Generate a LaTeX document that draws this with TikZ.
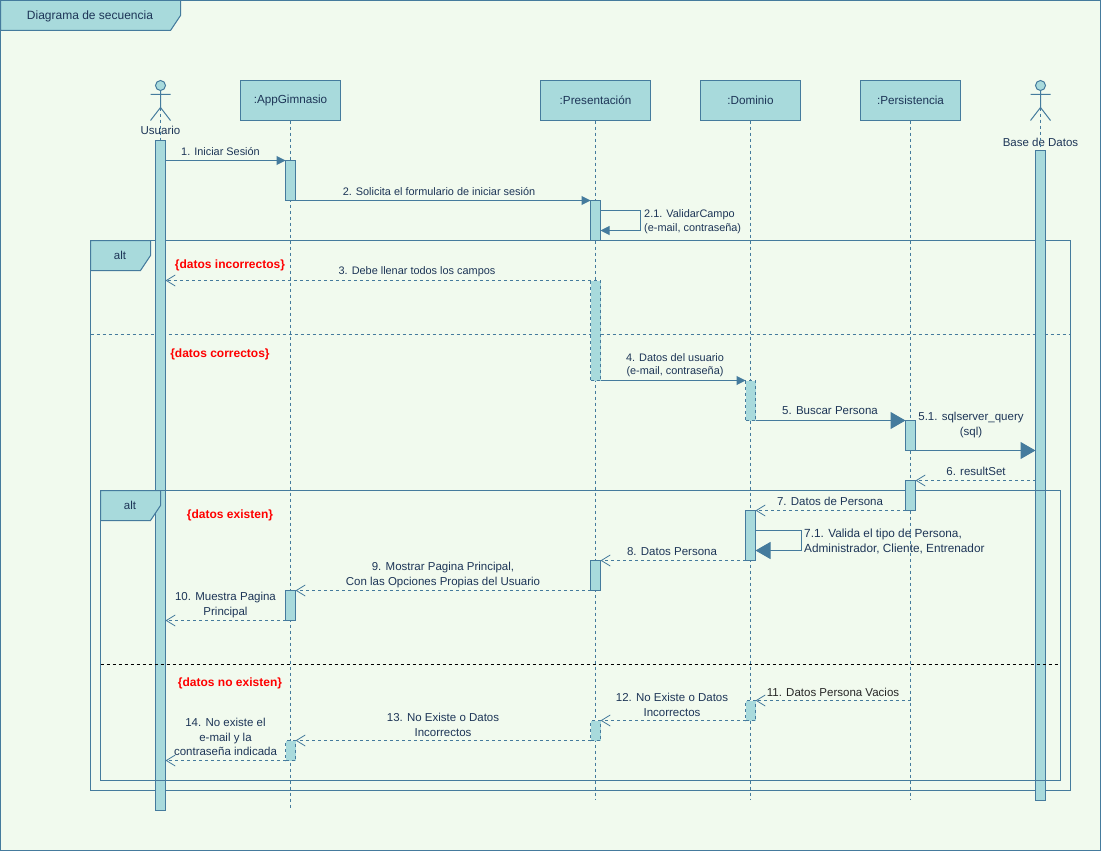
\documentclass[tikz,border=0pt]{standalone}
\usepackage{fontspec}
\setmainfont{Liberation Sans}
\usetikzlibrary{arrows.meta,calc}
\definecolor{sage}{HTML}{A8DADC}
\definecolor{steel}{HTML}{457B9D}
\definecolor{navy}{HTML}{1D3557}
\definecolor{paper}{HTML}{F1FAEE}
\tikzset{
  line/.style={draw=steel, line width=1pt},
  tab/.style={line, fill=sage},
  head/.style={line, fill=sage, minimum width=100pt, minimum height=40pt, inner sep=0pt, outer sep=0pt, text=navy, font=\fontsize{11.7}{14}\selectfont},
  bar/.style={line, fill=sage, minimum width=10pt, inner sep=0pt, outer sep=0pt},
  dbar/.style={bar, dashed, dash pattern=on 3pt off 3pt},
  life/.style={line, dash pattern=on 3pt off 3pt},
  txt/.style={text=navy, inner sep=0pt, align=center, yshift=-1pt, font=\fontsize{10.9}{14}\selectfont},
  big/.style={text=navy, inner sep=0pt, align=center, yshift=-1pt, font=\fontsize{11.5}{15}\selectfont},
  cond/.style={text=red, inner sep=0pt, yshift=-2.5pt, font=\fontsize{12}{14}\selectfont\bfseries},
  call/.style={line, -{Triangle[length=9pt,width=9pt]}},
  fat/.style={line, -{Triangle[length=15pt,width=17pt]}},
  back/.style={life, -{Straight Barb[length=9pt,width=11pt,line width=0.8pt]}},
}
\begin{document}
\begin{tikzpicture}[x=1pt, y=-1pt]
  \useasboundingbox (0,0) rectangle (1101,851);
  \draw[line, fill=paper] (0.5,0.5) rectangle (1100.5,850.5);
  \draw[tab] (0.5,0.5)--(180.5,0.5)--(180.5,15.5)--(170.5,30.5)--(0.5,30.5)--cycle;
  \node[big, font=\fontsize{12}{14}\selectfont] (title) at (90,15) {Diagrama de secuencia};

  \draw[line] (90.5,240.5) rectangle (1070.5,790.5);
  \draw[life] (90.5,334.5)--(1070.5,334.5);
  \draw[tab] (90.5,240.5)--(150.5,240.5)--(150.5,255.5)--(140.5,270.5)--(90.5,270.5)--cycle;
  \node[big] (altA) at (120,254) {alt};

  \node[big] (usuario) at (160.5,129) {Usuario};
  \node[big] (base) at (1040.5,141) {Base de Datos};
  \draw[line, fill=sage] (160.5,85.5) circle (5);
  \draw[line] (150.5,94.5)--(170.5,94.5) (160.5,90.5)--(160.5,107.5)--(150.5,120.5) (160.5,107.5)--(170.5,120.5);
  \draw[line, fill=sage] (1040.5,85.5) circle (5);
  \draw[line] (1030.5,94.5)--(1050.5,94.5) (1040.5,90.5)--(1040.5,107.5)--(1030.5,120.5) (1040.5,107.5)--(1050.5,120.5);
  \coordinate (uTop) at (160.5,107.5);
  \coordinate (dTop) at (1040.5,107.5);
  \node[bar, minimum height=670pt] (bU) at (160.5,475.5) {};
  \node[bar, minimum height=650pt] (bD) at (1040.5,475.5) {};
  \draw[life] (uTop)--(bU.north);
  \draw[life] (dTop)--(bD.north);

  \draw[line] (100.5,490.5) rectangle (1060.5,780.5);
  \draw[black, line width=1pt, dash pattern=on 3pt off 3pt] (100.5,664.5)--(1058.5,664.5);
  \draw[tab] (100.5,490.5)--(160.5,490.5)--(160.5,505.5)--(150.5,520.5)--(100.5,520.5)--cycle;
  \node[big] (altB) at (130,504) {alt};

  \node[head] (app) at (290.5,100.5) {:AppGimnasio};
  \node[head, minimum width=110pt] (pre) at (595.5,100.5) {:Presentación};
  \node[head] (dom) at (750.5,100.5) {:Dominio};
  \node[head] (per) at (910.5,100.5) {:Persistencia};
  \coordinate (appEnd) at (290.5,808);
  \coordinate (preEnd) at (595.5,800);
  \coordinate (domEnd) at (750.5,800);
  \coordinate (perEnd) at (910.5,800);
  \draw[life] (app.south)--(appEnd);
  \draw[life] (pre.south)--(preEnd);
  \draw[life] (dom.south)--(domEnd);
  \draw[life] (per.south)--(perEnd);

  \node[bar, minimum height=40pt] (a1) at (290.5,180.5) {};
  \node[bar, minimum height=30pt] (a2) at (290.5,605.5) {};
  \node[dbar, minimum height=20pt] (a3) at (290.5,750.5) {};
  \node[bar, minimum height=40pt] (p1) at (595.5,220.5) {};
  \node[dbar, minimum height=100pt] (p2) at (595.5,330.5) {};
  \node[bar, minimum height=30pt] (p3) at (595.5,575.5) {};
  \node[dbar, minimum height=20pt] (p4) at (595.5,730.5) {};
  \node[dbar, minimum height=40pt] (d1) at (750.5,400.5) {};
  \node[bar, minimum height=50pt] (d2) at (750.5,535.5) {};
  \node[dbar, minimum height=20pt] (d3) at (750.5,710.5) {};
  \node[bar, minimum height=30pt] (s1) at (910.5,435.5) {};
  \node[bar, minimum height=30pt] (s2) at (910.5,495.5) {};

  \draw[call] (bU.east |- a1.north)--(a1.north west);
  \draw[call] (a1.south east)--(p1.north west);
  \draw[call] (p1.east |- 0,210.5)--(640.5,210.5)--(640.5,230.5)--(p1.east |- 0,230.5);
  \draw[back] (p2.north west)--(bU.east |- p2.north);
  \draw[call] (p2.south east)--(d1.north west);
  \draw[fat] (d1.south east)--(s1.north west);
  \draw[fat] (s1.south east)--(bD.west |- s1.south);
  \draw[back] (bD.west |- s2.north)--(s2.north east);
  \draw[back] (s2.south west)--(d2.north east);
  \draw[fat] (d2.east |- 0,530.5)--(801.5,530.5)--(801.5,550.5)--(d2.east |- 0,550.5);
  \draw[back] (d2.south west)--(p3.north east);
  \draw[back] (p3.south west)--(a2.north east);
  \draw[back] (a2.south west)--(bU.east |- a2.south);
  \draw[back] (per |- d3.north)--(d3.north east);
  \draw[back] (d3.south west)--(p4.north east);
  \draw[back] (p4.south west)--(a3.north east);
  \draw[back] (a3.south west)--(bU.east |- a3.south);

  \node[txt] (m1) at (220.5,151) {1. Iniciar Sesión};
  \node[txt] (m2) at (439,191) {2. Solicita el formulario de iniciar sesión};
  \node[txt, align=left, anchor=west] (m21) at (644,221) {2.1. ValidarCampo\\(e-mail, contraseña)};
  \node[txt] (m3) at (417,271) {3. Debe llenar todos los campos};
  \node[txt, font=\fontsize{10.9}{13}\selectfont] (m4) at (675,364) {4. Datos del usuario\\(e-mail, contraseña)};
  \node[big] (m5) at (830,410) {5. Buscar Persona};
  \node[big] (m51) at (971,424) {5.1. sqlserver\_query\\(sql)};
  \node[big] (m6) at (976,470) {6. resultSet};
  \node[big] (m7) at (830,500) {7. Datos de Persona};
  \node[big, align=left, anchor=west, font=\fontsize{11.8}{15}\selectfont] (m71) at (804,540) {7.1. Valida el tipo de Persona,\\Administrador, Cliente, Entrenador};
  \node[big] (m8) at (672,551) {8. Datos Persona};
  \node[big] (m9) at (443,574.5) {9. Mostrar Pagina Principal,\\Con las Opciones Propias del Usuario};
  \node[big] (m10) at (225.5,604.5) {10. Muestra Pagina\\Principal};
  \node[big, text=black!85] (m11) at (833,691) {11. Datos Persona Vacios};
  \node[big] (m12) at (672,703.5) {12. No Existe o Datos\\Incorrectos};
  \node[big] (m13) at (443,723.5) {13. No Existe o Datos\\Incorrectos};
  \node[big, font=\fontsize{11.5}{14.5}\selectfont] (m14) at (225.5,736) {14. No existe el\\e-mail y la\\contraseña indicada};

  \node[cond] (c1) at (230,263) {\{datos incorrectos\}};
  \node[cond] (c2) at (220,352) {\{datos correctos\}};
  \node[cond] (c3) at (230,513) {\{datos existen\}};
  \node[cond] (c4) at (230,681) {\{datos no existen\}};
\end{tikzpicture}
\end{document}
